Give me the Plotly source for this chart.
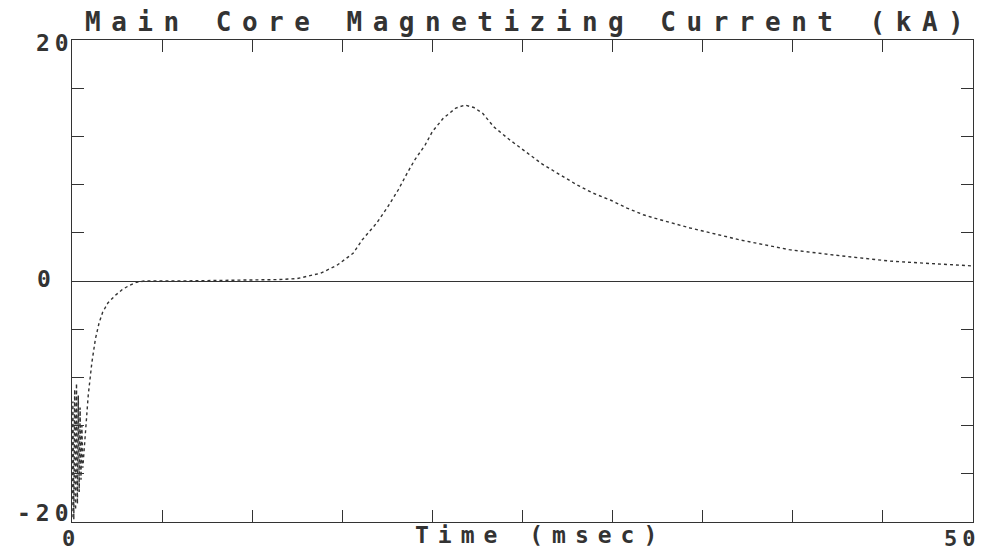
import plotly.graph_objects as go

# ---- data ----
time_ms = [0.0, 0.05, 0.1, 0.15, 0.2, 0.25, 0.3, 0.35, 0.4, 0.45, 0.5, 0.55,
           0.6, 0.7, 0.8, 0.9, 1.0, 1.1, 1.2, 1.3, 1.5, 1.7, 2.0, 2.4, 2.8,
           3.2, 3.6, 4.0, 6.0, 9.0, 10.5, 11.5, 12.5, 13.0, 13.8, 14.7, 15.6,
           16.1, 16.9, 17.5, 18.1, 18.6, 19.0, 19.6, 20.0, 20.6, 21.3, 21.8,
           22.3, 22.8, 23.4, 24.3, 25.2, 26.1, 27.1, 28.0, 28.9, 29.9, 30.8,
           31.7, 32.6, 34.3, 37.1, 39.8, 42.6, 45.4, 48.2, 50.0]
current_ka = [-19.6, -10.0, -19.8, -9.0, -19.0, -8.5, -18.5, -9.5, -17.5, -10.5,
              -16.5, -12.0, -15.5, -13.0, -11.5, -9.5, -8.0, -6.8, -5.8, -4.8,
              -3.5, -2.6, -1.8, -1.2, -0.7, -0.35, -0.1, 0.0, 0.0, 0.05, 0.12,
              0.12, 0.2, 0.35, 0.65, 1.3, 2.3, 3.4, 4.8, 6.1, 7.55, 8.95, 10.0,
              11.3, 12.4, 13.5, 14.35, 14.6, 14.4, 13.9, 12.8, 11.7, 10.7, 9.7,
              8.8, 8.0, 7.3, 6.7, 6.05, 5.5, 5.1, 4.4, 3.4, 2.6, 2.1, 1.65,
              1.4, 1.25]

title_text = "Main Core Magnetizing Current (kA)"
x_title = "Time (msec)"
x_tick_vals = [0, 50]
x_tick_text = ["0", "50"]
y_tick_vals = [20, 0, -20]
y_tick_text = ["20", "0", "-20"]

ink = "#333333"
FONT = "DejaVu Sans Mono"


def spaced(s, px):
    return '<span style="letter-spacing:%spx">%s</span>' % (px, s)


fig = go.Figure()
fig.add_trace(go.Scatter(
    x=time_ms, y=current_ka, mode="lines",
    line=dict(color=ink, width=1.4, dash="dot"),
    showlegend=False, hoverinfo="x+y",
))

axis_common = dict(
    showgrid=False, showline=True, linecolor=ink, linewidth=1,
    mirror="ticks", ticks="inside", ticklen=12, tickcolor=ink, tickwidth=1,
    showticklabels=False,
)

fig.update_xaxes(range=[0, 50], tick0=0, dtick=5, zeroline=False, **axis_common)
fig.update_yaxes(range=[-20, 20], tick0=-20, dtick=4, zeroline=True,
                 zerolinecolor=ink, zerolinewidth=1, **axis_common)

annotations = []
# title
annotations.append(dict(
    text=spaced(title_text, 10.5), xref="paper", yref="paper",
    x=0.508, y=1.038, xanchor="center", yanchor="middle", showarrow=False,
    font=dict(family=FONT, size=26, color=ink, weight="bold"),
))
# x axis title
annotations.append(dict(
    text=spaced(x_title, 9), xref="paper", yref="paper",
    x=0.52, y=-0.028, xanchor="center", yanchor="middle", showarrow=False,
    font=dict(family=FONT, size=23, color=ink, weight="bold"),
))
# x tick labels
for v, t in zip(x_tick_vals, x_tick_text):
    annotations.append(dict(
        text=spaced(t, 5), xref="x", yref="paper", x=v, y=-0.034,
        xanchor="left" if v == 0 else "right", xshift=-12 if v == 0 else 10,
        yanchor="middle", showarrow=False,
        font=dict(family=FONT, size=22, color=ink, weight="bold"),
    ))
# y tick labels
for v, t in zip(y_tick_vals, y_tick_text):
    ysh = 0
    if v == 20:
        ysh = -3
    elif v == -20:
        ysh = 9
    elif v == 0:
        ysh = 2
    xsh = 4 if v != 0 else -14
    annotations.append(dict(
        text=spaced(t, 5), xref="paper", yref="y", x=0, y=v,
        xanchor="right", xshift=xsh, yshift=ysh,
        yanchor="middle", showarrow=False,
        font=dict(family=FONT, size=23, color=ink, weight="bold"),
    ))

# page body has an 8px margin, so the figure is sized to fit within it
fig.update_layout(
    width=980, height=544,
    margin=dict(l=64, r=15, t=32, b=30),
    paper_bgcolor="white", plot_bgcolor="white",
    annotations=annotations,
)

fig.write_html("out.html")
